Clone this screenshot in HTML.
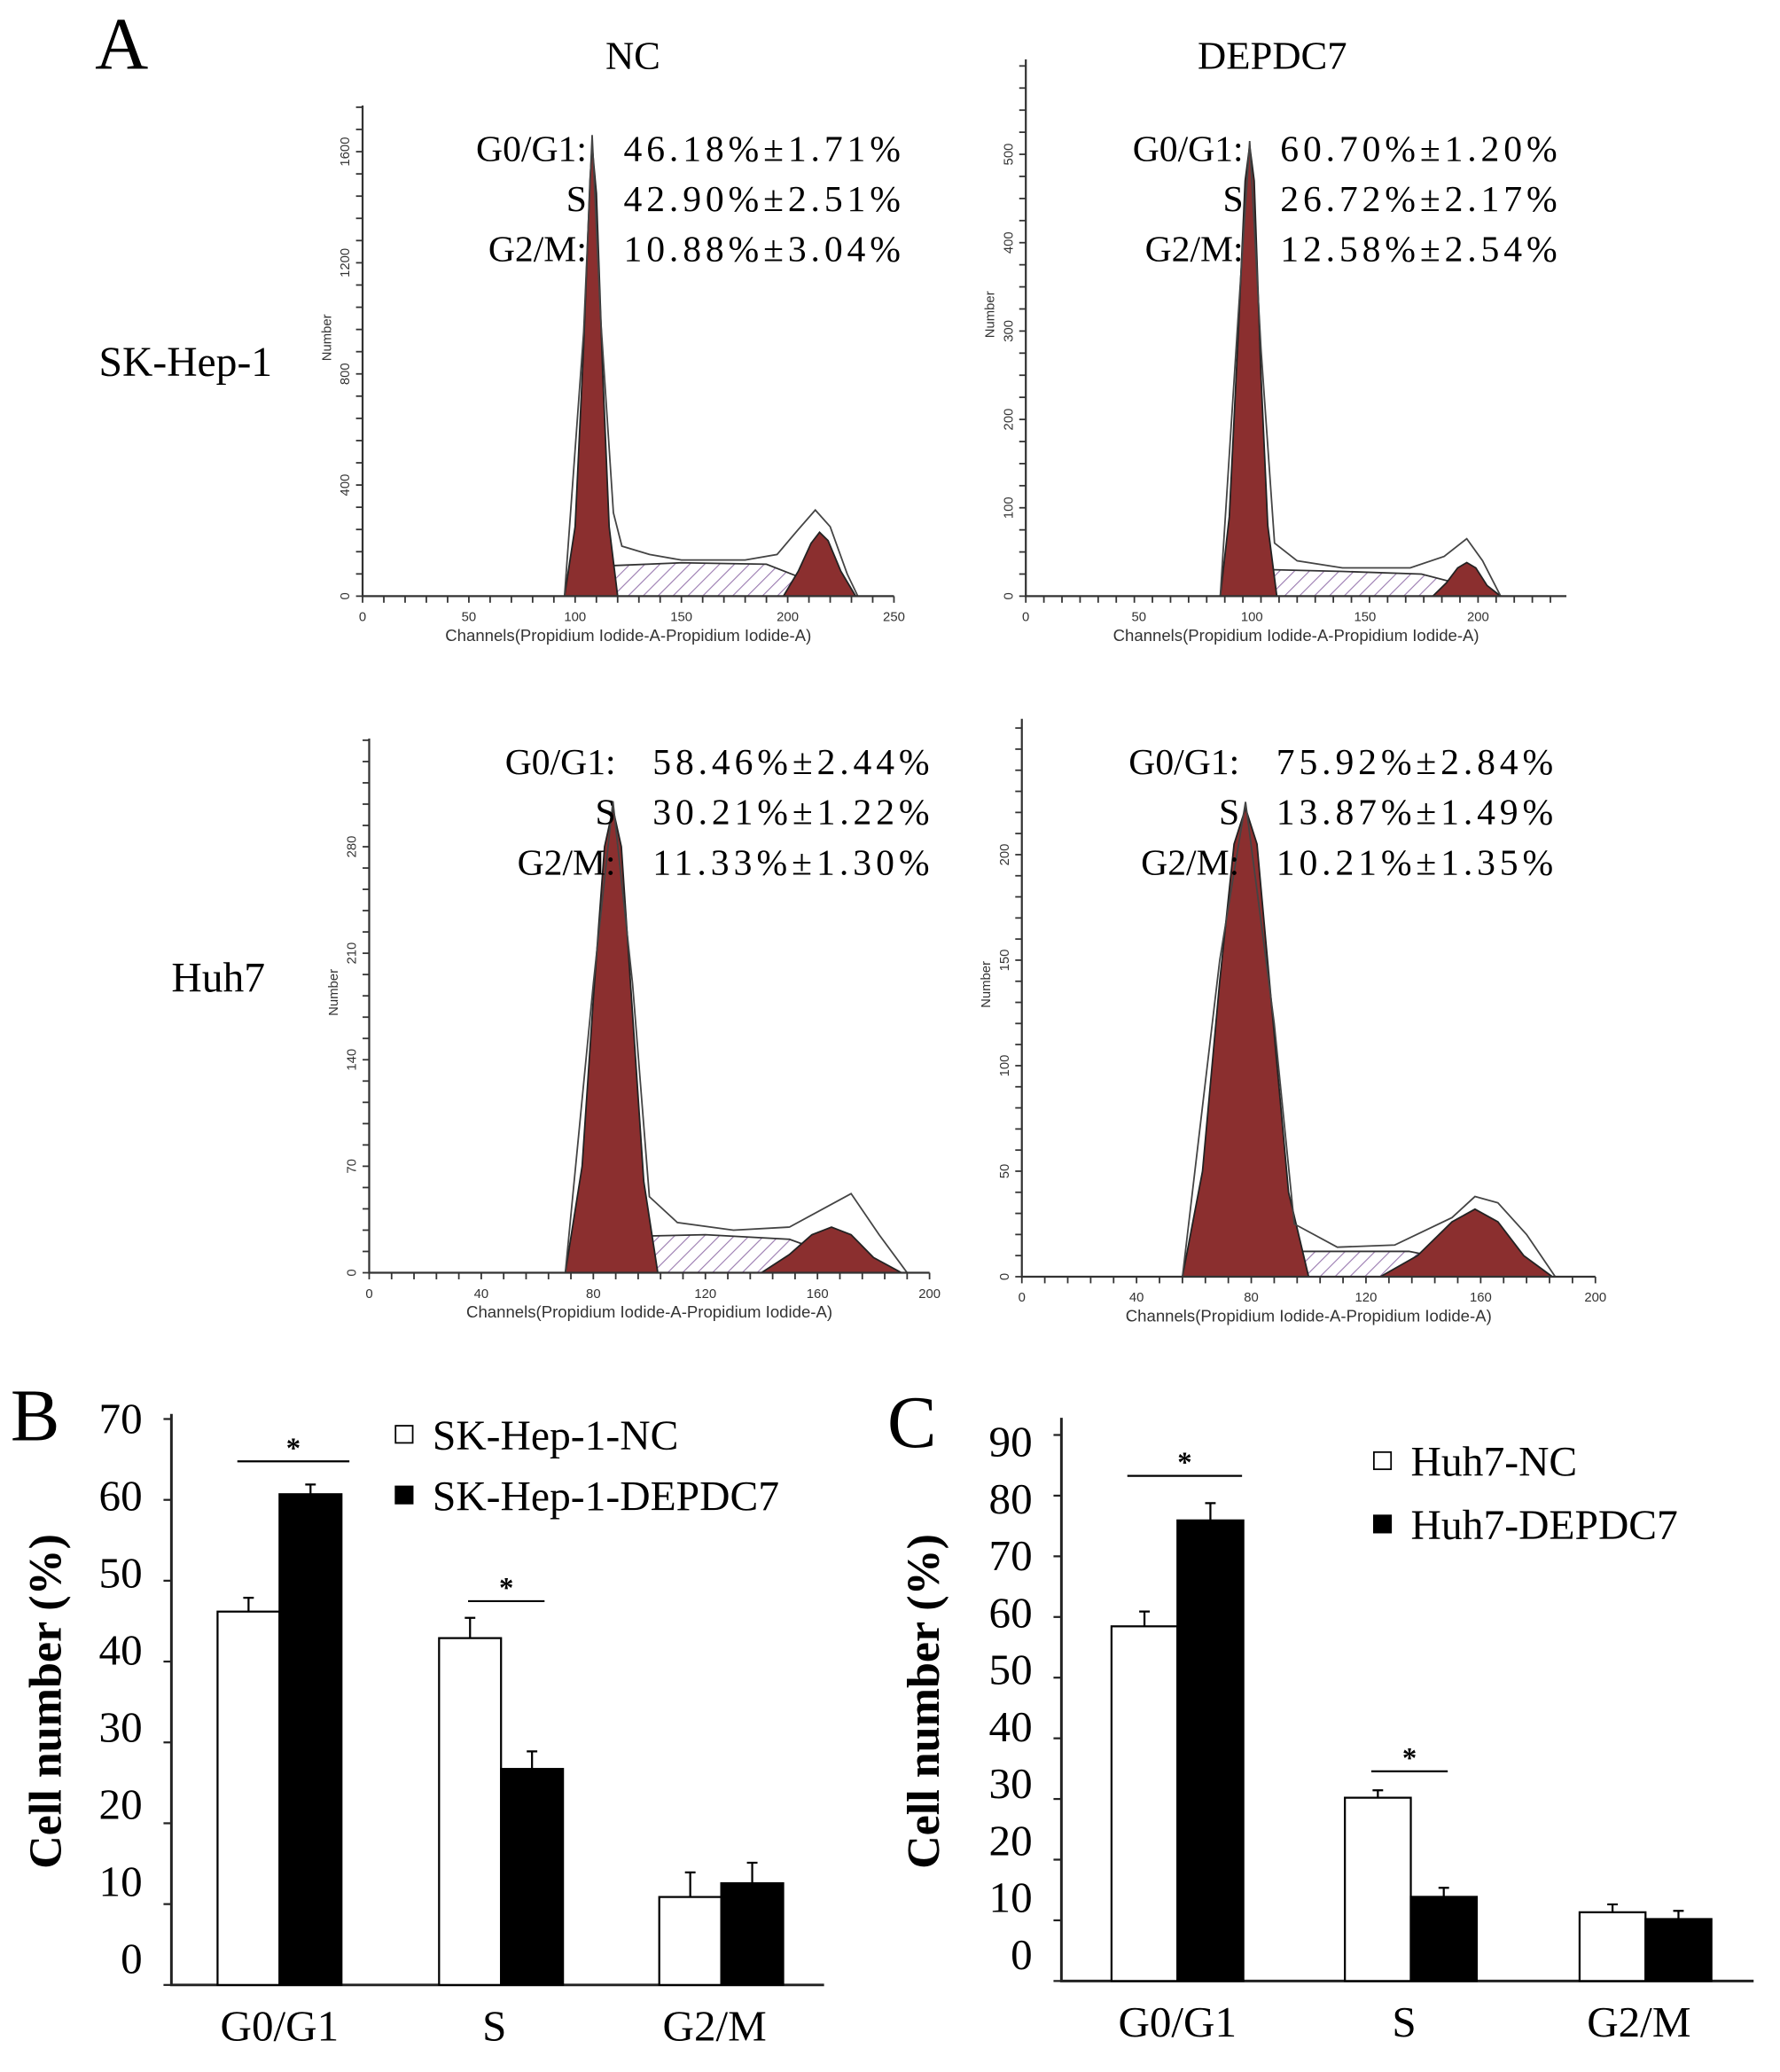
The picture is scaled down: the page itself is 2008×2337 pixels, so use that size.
<!DOCTYPE html>
<html><head><meta charset="utf-8"><style>
html,body{margin:0;padding:0;background:#fff}
svg{display:block}
text{font-family:"Liberation Serif",serif}
.sm{font-family:"Liberation Sans",sans-serif;font-size:10px}
</style></head><body>
<svg id="fig" xmlns="http://www.w3.org/2000/svg" width="2008" height="2337" viewBox="0 0 1350 1571" preserveAspectRatio="none">
<defs>
<pattern id="hatchP" width="8" height="8" patternUnits="userSpaceOnUse" patternTransform="rotate(45)"><rect width="8" height="8" fill="#fff"/><line x1="0" y1="0" x2="0" y2="8" stroke="#9a7ab0" stroke-width="1.5"/></pattern>
</defs>
<text x="72" y="52" font-size="56">A</text>
<text x="480" y="52" font-size="30" text-anchor="middle">NC</text>
<text x="965" y="52" font-size="30" text-anchor="middle">DEPDC7</text>
<text x="75" y="285" font-size="32">SK-Hep-1</text>
<text x="130" y="752" font-size="32">Huh7</text>
<text x="8" y="1092" font-size="56">B</text>
<text x="673" y="1097" font-size="56">C</text>
<g id="hists"></g>
<g id="bars"></g>
</svg>
<script>
const NS="http://www.w3.org/2000/svg";
function mk(tag,attrs,parent,txt){const e=document.createElementNS(NS,tag);for(const k in attrs)e.setAttribute(k,attrs[k]);if(txt!==undefined)e.textContent=txt;parent.appendChild(e);return e;}

// ---------- Histogram data ----------
const histXTicks1=[0,50,100,150,200,250];
const histXTicks2=[0,50,100,150,200];
const histXTicks3=[0,40,80,120,160,200];
const histYTicks1=[0,400,800,1200,1600];
const histYTicks2=[0,100,200,300,400,500];
const histYTicks3=[0,70,140,210,280];
const histYTicks4=[0,50,100,150,200];
const g1Ch1=[95,100,104,107,108,110,113,116,120]; const g1Ct1=[0,250,900,1500,1620,1450,800,250,0];
const g2Ch1=[198,205,211,215,219,225,232]; const g2Ct1=[0,90,190,230,200,90,0];
const sCh1=[110,118,150,190,205,212]; const sCt1=[0,110,120,115,70,0];
const envCh1=[95,104,108,112,118,122,135,150,180,195,205,213,220,228,233]; const envCt1=[0,950,1660,1000,300,180,150,130,130,150,240,310,250,80,0];
const g1Ch2=[86,90,94,97,99,101,104,107,111]; const g1Ct2=[0,90,300,470,510,470,250,80,0];
const g2Ch2=[180,186,191,195,199,204,210]; const g2Ct2=[0,15,32,38,32,12,0];
const sCh2=[97,108,140,175,190,200]; const sCt2=[0,30,28,25,15,0];
const envCh2=[86,94,99,104,110,120,140,170,185,195,202,210]; const envCt2=[0,320,515,280,60,40,32,32,45,65,40,0];
const g1Ch3=[70,76,80,84,87,90,94,98,103]; const g1Ct3=[0,70,180,280,305,280,170,60,0];
const g2Ch3=[140,150,158,165,172,180,190]; const g2Ct3=[0,12,25,30,25,10,0];
const sCh3=[82,95,120,150,165,175]; const sCt3=[0,24,25,22,12,0];
const envCh3=[70,80,87,94,100,110,130,150,165,172,182,192]; const envCt3=[0,190,310,190,50,33,28,30,45,52,25,0];
const g1Ch4=[56,63,69,74,78,82,87,93,100]; const g1Ct4=[0,50,140,205,222,205,130,40,0];
const g2Ch4=[125,138,150,158,166,175,185]; const g2Ct4=[0,10,26,32,26,10,0];
const sCh4=[70,85,110,135,150,160]; const sCt4=[0,12,12,12,8,0];
const envCh4=[56,69,78,88,95,110,130,150,158,166,176,186]; const envCt4=[0,150,225,120,25,14,15,28,38,35,20,0];

const panels=[
 {name:"sk-nc",x0:275,x1:678,yTop:80,y0:452,cmax:250,ymax:1600,yTopPx:115,xt:histXTicks1,yt:histYTicks1,g1:[g1Ch1,g1Ct1],g2:[g2Ch1,g2Ct1],s:[sCh1,sCt1],env:[envCh1,envCt1],stats:[["G0/G1:","46.18%±1.71%"],["S","42.90%±2.51%"],["G2/M:","10.88%±3.04%"]],sx:445,sy:122},
 {name:"sk-depdc7",x0:778,x1:1188,yTop:45,y0:452,cmax:200,ymax:500,yTopPx:117,xmaxPx:1121,xt:histXTicks2,yt:histYTicks2,g1:[g1Ch2,g1Ct2],g2:[g2Ch2,g2Ct2],s:[sCh2,sCt2],env:[envCh2,envCt2],stats:[["G0/G1:","60.70%±1.20%"],["S","26.72%±2.17%"],["G2/M:","12.58%±2.54%"]],sx:943,sy:122},
 {name:"huh7-nc",x0:280,x1:705,yTop:560,y0:965,cmax:200,ymax:280,yTopPx:642,xt:histXTicks3,yt:histYTicks3,g1:[g1Ch3,g1Ct3],g2:[g2Ch3,g2Ct3],s:[sCh3,sCt3],env:[envCh3,envCt3],stats:[["G0/G1:","58.46%±2.44%"],["S","30.21%±1.22%"],["G2/M:","11.33%±1.30%"]],sx:467,sy:587},
 {name:"huh7-depdc7",x0:775,x1:1210,yTop:545,y0:968,cmax:200,ymax:200,yTopPx:648,xt:histXTicks3,yt:histYTicks4,g1:[g1Ch4,g1Ct4],g2:[g2Ch4,g2Ct4],s:[sCh4,sCt4],env:[envCh4,envCt4],stats:[["G0/G1:","75.92%±2.84%"],["S","13.87%±1.49%"],["G2/M:","10.21%±1.35%"]],sx:940,sy:587}
];
const hg=document.getElementById('hists');
panels.forEach(p=>{
  const g=mk('g',{},hg);
  
  
  const xEnd=p.xmaxPx||p.x1;
  const X=c=>p.x0+(c/p.cmax)*(xEnd-p.x0);
  const Y=v=>p.y0-(v/p.ymax)*(p.y0-p.yTopPx);
  const area=(arr,fill,stroke,name)=>{
    let d='M'+X(arr[0][0])+','+p.y0;
    arr[0].forEach((c,i)=>{d+=' L'+X(c)+','+Y(arr[1][i]);});
    d+=' L'+X(arr[0][arr[0].length-1])+','+p.y0+' Z';
    const e=mk('path',{d:d,fill:fill,stroke:stroke,'stroke-width':1.2},g);
    
    
  };
  area(p.s,'url(#hatchP)','#333','s-phase-area');
  area(p.g1,'#8b2f2f','#222','g1-peak');
  area(p.g2,'#8b2f2f','#222','g2-peak');
  let d='';
  p.env[0].forEach((c,i)=>{d+=(i?' L':'M')+X(c)+','+(Y(p.env[1][i]));});
  const env=mk('path',{d:d,fill:'none',stroke:'#444','stroke-width':1.2},g);
  
  
  const ax=mk('path',{d:`M${p.x0},${p.yTop} L${p.x0},${p.y0} L${p.x1},${p.y0}`,fill:'none',stroke:'#333','stroke-width':1.5},g);
  
  
  for(let c=0;X(c)<=p.x1;c+=p.cmax/25){mk('line',{x1:X(c),y1:p.y0,x2:X(c),y2:p.y0+5,stroke:'#333','stroke-width':1.2},g);}
  for(let v=0;Y(v)>=p.yTop;v+=p.ymax/20){mk('line',{x1:p.x0-5,y1:Y(v),x2:p.x0,y2:Y(v),stroke:'#333','stroke-width':1.2},g);}
  p.xt.forEach(t=>{const e=mk('text',{x:X(t),y:p.y0+19,'text-anchor':'middle',class:'sm',fill:'#333'},g,t);
    });
  p.yt.forEach(t=>{const e=mk('text',{x:0,y:0,'text-anchor':'middle',class:'sm',fill:'#333',transform:`translate(${p.x0-10},${Y(t)}) rotate(-90)`},g,t);
    });
  const nl=mk('text',{x:0,y:0,'text-anchor':'middle',class:'sm',fill:'#333',transform:`translate(${p.x0-24},${(p.y0+p.yTop)/2-10}) rotate(-90)`},g,'Number');
  
  const cl=mk('text',{x:(p.x0+p.x1)/2,y:p.y0+34,'text-anchor':'middle',style:'font-family:"Liberation Sans",sans-serif;font-size:12.5px',fill:'#333'},g,'Channels(Propidium Iodide-A-Propidium Iodide-A)');
  
  p.stats.forEach((s,i)=>{
    const a=mk('text',{x:p.sx,y:p.sy+i*38,'text-anchor':'end','font-size':28},g,s[0]);
    
    const b=mk('text',{x:p.sx+28,y:p.sy+i*38,'font-size':28,textLength:210,lengthAdjust:'spacing'},g,s[1]);
    
  });
});

// ---------- Bar chart data ----------
const barCats=["G0/G1","S","G2/M"];
const skNC=[46.18,42.90,10.88]; const skNCerr=[1.71,2.51,3.04];
const skDE=[60.70,26.72,12.58]; const skDEerr=[1.20,2.17,2.54];
const huNC=[58.46,30.21,11.33]; const huNCerr=[2.44,1.22,1.30];
const huDE=[75.92,13.87,10.21]; const huDEerr=[2.84,1.49,1.35];
const bTicks=[0,10,20,30,40,50,60,70];
const cTicks=[0,10,20,30,40,50,60,70,80,90];
const bg=document.getElementById('bars');
function barChart(o){
  const g=mk('g',{},bg);
  
  
  const Y=v=>o.y0-v*o.k;
  const ax=mk('path',{d:`M${o.ax},${o.yTop} L${o.ax},${o.y0} L${o.axEnd},${o.y0}`,fill:'none',stroke:'#222','stroke-width':2},g);
  
  o.ticks.forEach(t=>{
    mk('line',{x1:o.ax-6,y1:Y(t),x2:o.ax,y2:Y(t),stroke:'#222','stroke-width':1.5},g);
    const e=mk('text',{x:o.ax-22,y:Y(t)-20+t*0.28+11,'text-anchor':'end','font-size':33},g,t);
    
  });
  o.cats.forEach((c,i)=>{
    const cx=o.cx[i];
    [[o.nc,o.ncErr,'#fff',cx-o.w,'nc'],[o.de,o.deErr,'#000',cx,'depdc7']].forEach(s=>{
      const v=s[0][i],er=s[1][i],x=s[3];
      const r=mk('rect',{x:x,y:Y(v),width:o.w,height:o.y0-Y(v),fill:s[2],stroke:'#000','stroke-width':1.5},g);
      
      const eb=mk('path',{d:`M${x+o.w/2},${Y(v)} L${x+o.w/2},${Y(v+er)} M${x+o.w/2-4},${Y(v+er)} L${x+o.w/2+4},${Y(v+er)}`,stroke:'#000','stroke-width':1.5,fill:'none'},g);
      
    });
    const t=mk('text',{x:cx+(i==0?0:-5),y:o.y0+42,'text-anchor':'middle','font-size':33},g,c);
    
  });
  o.sig.forEach(s=>{
    const l=mk('line',{x1:s[0],y1:s[2],x2:s[1],y2:s[2],stroke:'#000','stroke-width':1.5},g);
    
    const st=mk('text',{x:(s[0]+s[1])/2,y:s[2]-3,'text-anchor':'middle','font-size':22,'font-weight':'bold'},g,'*');
    
  });
  const yt=mk('text',{x:0,y:0,'text-anchor':'middle','font-size':35,'font-weight':'bold',transform:`translate(${o.titleX},${o.titleY}) rotate(-90)`},g,'Cell number (%)');
  
  o.leg.forEach((l,i)=>{
    const r=mk('rect',{x:o.legX,y:o.legY+i*o.legDy-7,width:13,height:13,fill:i?'#000':'#fff',stroke:'#000','stroke-width':1.2},g);
    
    const t=mk('text',{x:o.legX+28,y:o.legY+i*o.legDy+11,'font-size':32},g,l);
    
  });
}
barChart({name:'bar-chart-sk-hep-1',ax:130,axEnd:625,yTop:1072,y0:1505,k:6.13,ticks:bTicks,cats:barCats,cx:[212,380,547],w:47,
  nc:skNC,ncErr:skNCerr,de:skDE,deErr:skDEerr,sig:[[180,265,1108],[355,413,1214]],titleX:46,titleY:1290,
  leg:["SK-Hep-1-NC","SK-Hep-1-DEPDC7"],legX:300,legY:1088,legDy:46});
barChart({name:'bar-chart-huh7',ax:805,axEnd:1330,yTop:1075,y0:1502,k:4.6,ticks:cTicks,cats:barCats,cx:[893,1070,1248],w:50,
  nc:huNC,ncErr:huNCerr,de:huDE,deErr:huDEerr,sig:[[855,942,1119],[1040,1098,1343]],titleX:712,titleY:1290,
  leg:["Huh7-NC","Huh7-DEPDC7"],legX:1042,legY:1108,legDy:48});
</script>
</body></html>
